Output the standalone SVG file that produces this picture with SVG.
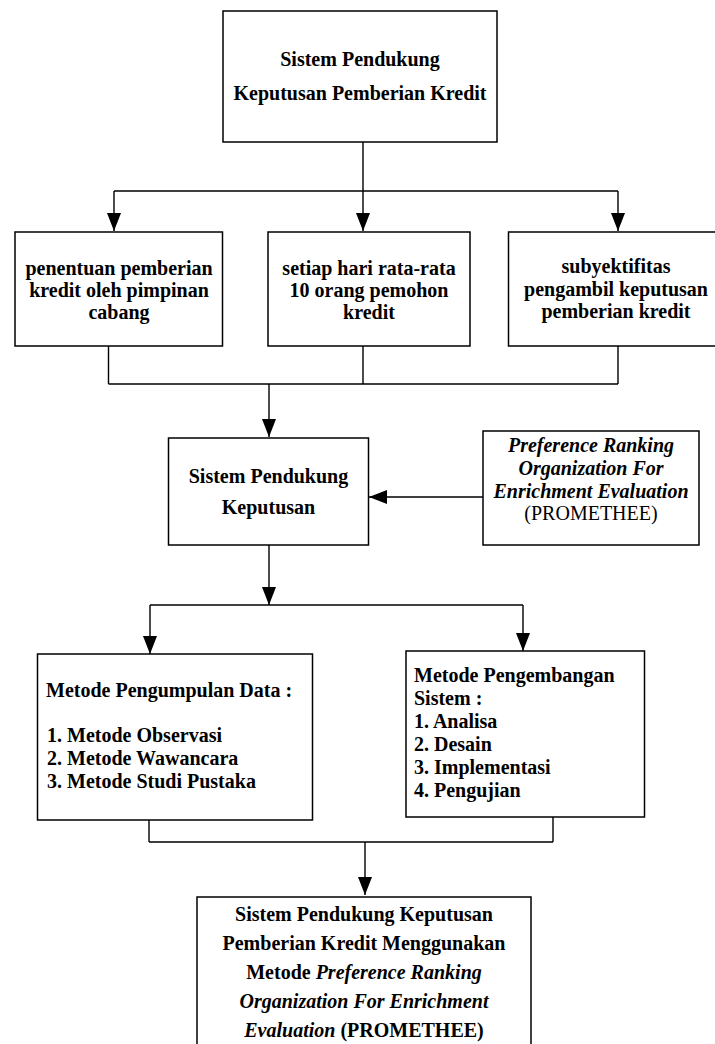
<svg xmlns="http://www.w3.org/2000/svg" width="715" height="1044" viewBox="0 0 715 1044">
<style>
.box{fill:#fff;stroke:#000;stroke-width:1.5}
.t{font-family:'Liberation Serif','Tinos','DejaVu Serif',serif;font-size:20px;font-weight:bold;fill:#000}
.c{text-anchor:middle}
.i{font-style:italic}
.n{font-weight:normal}
.ln{fill:none;stroke:#000;stroke-width:1.4}
</style>
<defs>
<marker id="ah" markerUnits="userSpaceOnUse" markerWidth="18" markerHeight="14" refX="18" refY="7" orient="auto" viewBox="0 0 18 14">
<path d="M0,0 L18,7 L0,14 z" fill="#000"/>
</marker>
</defs>
<rect width="715" height="1044" fill="#fff"/>
<g id="connectors">
<path class="ln" d="M363,142 V191 M114,191 H618"/>
<path class="ln" d="M114,191 V231" marker-end="url(#ah)"/>
<path class="ln" d="M363,191 V231" marker-end="url(#ah)"/>
<path class="ln" d="M618,191 V231" marker-end="url(#ah)"/>
<path class="ln" d="M108.5,346 V384 M363,346 V384 M618,346 V384 M108.5,384 H618"/>
<path class="ln" d="M269,384 V437" marker-end="url(#ah)"/>
<path class="ln" d="M483,497 H369" marker-end="url(#ah)"/>
<path class="ln" d="M269,545 V605" marker-end="url(#ah)"/>
<path class="ln" d="M150,605 H523"/>
<path class="ln" d="M150,605 V654" marker-end="url(#ah)"/>
<path class="ln" d="M523,605 V651" marker-end="url(#ah)"/>
<path class="ln" d="M149,820 V842 M553,817 V842 M149,842 H553"/>
<path class="ln" d="M365,842 V895" marker-end="url(#ah)"/>
</g>
<g id="n_top">
<rect class="box" x="223" y="11" width="274" height="131"/>
<text class="t c" x="360" y="66">Sistem Pendukung</text>
<text class="t c" x="360" y="100">Keputusan Pemberian Kredit</text>
</g>
<g id="n_penentuan">
<rect class="box" x="15" y="232" width="207.5" height="114"/>
<text class="t c" x="119" y="275">penentuan pemberian</text>
<text class="t c" x="119" y="297">kredit oleh pimpinan</text>
<text class="t c" x="119" y="319">cabang</text>
</g>
<g id="n_setiap">
<rect class="box" x="268" y="232" width="202" height="114"/>
<text class="t c" x="369" y="275">setiap hari rata-rata</text>
<text class="t c" x="369" y="297">10 orang pemohon</text>
<text class="t c" x="369" y="319">kredit</text>
</g>
<g id="n_subyektifitas">
<rect class="box" x="508.5" y="232" width="215" height="114"/>
<text class="t c" x="616" y="273">subyektifitas</text>
<text class="t c" x="616" y="296">pengambil keputusan</text>
<text class="t c" x="616" y="318">pemberian kredit</text>
</g>
<g id="n_spk">
<rect class="box" x="168.5" y="438" width="200" height="107"/>
<text class="t c" x="268.5" y="483">Sistem Pendukung</text>
<text class="t c" x="268.5" y="514">Keputusan</text>
</g>
<g id="n_promethee">
<rect class="box" x="483" y="431" width="216" height="114"/>
<text class="t c i" x="591" y="452">Preference Ranking</text>
<text class="t c i" x="591" y="475">Organization For</text>
<text class="t c i" x="591" y="498">Enrichment Evaluation</text>
<text class="t c n" x="591" y="520">(PROMETHEE)</text>
</g>
<g id="n_pengumpulan">
<rect class="box" x="37.5" y="654" width="275" height="166"/>
<text class="t" x="46" y="697">Metode Pengumpulan Data :</text>
<text class="t" x="47" y="742">1. Metode Observasi</text>
<text class="t" x="47" y="765">2. Metode Wawancara</text>
<text class="t" x="47" y="788">3. Metode Studi Pustaka</text>
</g>
<g id="n_pengembangan">
<rect class="box" x="406" y="651" width="238.5" height="166"/>
<text class="t" x="414" y="682">Metode Pengembangan</text>
<text class="t" x="414" y="705">Sistem :</text>
<text class="t" x="414" y="728">1. Analisa</text>
<text class="t" x="414" y="751">2. Desain</text>
<text class="t" x="414" y="774">3. Implementasi</text>
<text class="t" x="414" y="797">4. Pengujian</text>
</g>
<g id="n_hasil">
<rect class="box" x="197" y="897" width="334" height="160"/>
<text class="t c" x="364" y="921">Sistem Pendukung Keputusan</text>
<text class="t c" x="364" y="950">Pemberian Kredit Menggunakan</text>
<text class="t c" x="364" y="979">Metode <tspan class="i">Preference Ranking</tspan></text>
<text class="t c i" x="364" y="1008">Organization For Enrichment</text>
<text class="t c" x="364" y="1037"><tspan class="i">Evaluation</tspan> (PROMETHEE)</text>
</g>
</svg>
